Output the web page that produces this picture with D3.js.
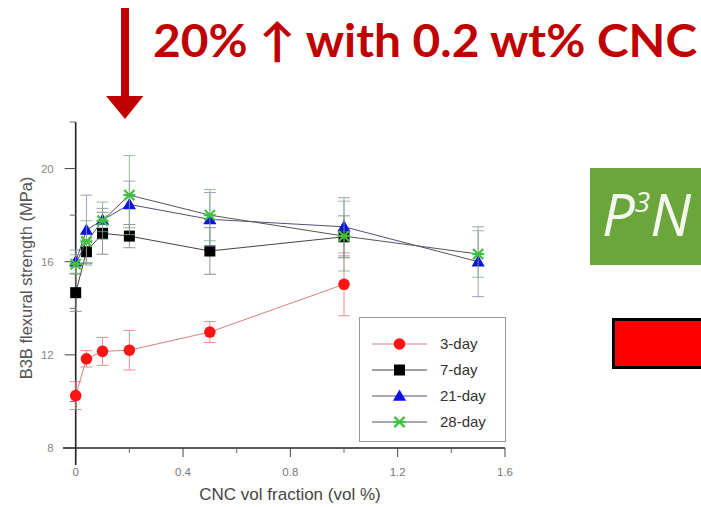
<!DOCTYPE html>
<html>
<head>
<meta charset="utf-8">
<script src="https://cdn.jsdelivr.net/npm/d3@7"></script>
<style>
  html, body { margin: 0; padding: 0; background: #fff; }
  svg { display: block; font-family: 'Liberation Sans', Arial, sans-serif; }
</style>
</head>
<body>
<svg id="chart" width="701" height="507"></svg>
<script>
// ---- data ----
const cncVol = [0, 0.04, 0.1, 0.2, 0.5, 1.0, 1.5];
const day3 = [10.25, 11.83, 12.15, 12.2, 12.98, 15.03];
const day3Err = [0.6, 0.35, 0.6, 0.85, 0.45, 1.35];
const day7 = [14.67, 16.43, 17.22, 17.1, 16.46, 17.07];
const day7Err = [0.8, 0.5, 0.9, 0.5, 1.0, 0.9];
const day21 = [16.0, 17.36, 17.79, 18.46, 17.82, 17.5, 16.0];
const day21Err = [0.5, 1.5, 0.5, 1.0, 1.15, 1.25, 1.5];
const day28 = [15.9, 16.86, 17.76, 18.86, 18.0, 17.1, 16.33];
const day28Err = [0.4, 0.9, 0.8, 1.7, 1.1, 1.5, 1.0];
const xTicks = [0, 0.4, 0.8, 1.2, 1.6];
const xMinor = [0.2, 0.6, 1.0, 1.4];
const yTicks = [8, 12, 16, 20];
const yMinor = [10, 14, 18, 22];
const seriesNames = ['3-day', '7-day', '21-day', '28-day'];
const headline = '20% \u2191 with 0.2 wt% CNC';

const svg = d3.select('#chart');
const x = d3.scaleLinear().domain([0, 1.6]).range([75.7, 505]);
const y = d3.scaleLinear().domain([8, 22]).range([448, 122]);

const series = [
  { name: seriesNames[0], vals: day3, err: day3Err, marker: 'circle', fill: '#ff1414', line: '#d88080', errC: '#f07070' },
  { name: seriesNames[1], vals: day7, err: day7Err, marker: 'square', fill: '#000', line: '#444', errC: '#777' },
  { name: seriesNames[2], vals: day21, err: day21Err, marker: 'triangle', fill: '#1010e0', line: '#505078', errC: '#8888aa' },
  { name: seriesNames[3], vals: day28, err: day28Err, marker: 'cross', fill: '#40c040', line: '#555', errC: '#80b080' }
];

// ---- axes ----
const gx = svg.append('g').attr('transform', 'translate(0,448)');
gx.append('line').attr('x1', 63).attr('x2', x(1.6)).attr('stroke', '#222').attr('stroke-width', 1.6);
gx.selectAll('.maj').data(xTicks).join('line')
  .attr('x1', d => x(d)).attr('x2', d => x(d)).attr('y1', 0).attr('y2', 9)
  .attr('stroke', '#444');
gx.selectAll('.min').data(xMinor).join('line')
  .attr('x1', d => x(d)).attr('x2', d => x(d)).attr('y1', 0).attr('y2', 5)
  .attr('stroke', '#666');
gx.selectAll('text').data(xTicks).join('text')
  .attr('x', d => x(d)).attr('y', 28).attr('text-anchor', 'middle')
  .attr('fill', '#777').style('font-size', '11.5px')
  .text(d => d3.format('')(d));
svg.append('text').attr('x', 290).attr('y', 500).attr('text-anchor', 'middle')
  .attr('fill', '#444').style('font-size', '17px').text('CNC vol fraction (vol %)');

const gy = svg.append('g').attr('transform', 'translate(75.7,0)');
gy.append('line').attr('y1', y(22)).attr('y2', 465).attr('stroke', '#222').attr('stroke-width', 1.6);
gy.selectAll('.maj').data(yTicks).join('line')
  .attr('x1', -11).attr('x2', 0).attr('y1', d => y(d)).attr('y2', d => y(d))
  .attr('stroke', '#444');
gy.selectAll('.min').data(yMinor).join('line')
  .attr('x1', -6).attr('x2', 0).attr('y1', d => y(d)).attr('y2', d => y(d))
  .attr('stroke', '#666');
gy.selectAll('text').data(yTicks).join('text')
  .attr('x', -22).attr('y', d => y(d) + 4).attr('text-anchor', 'end')
  .attr('fill', '#888').style('font-size', '11.5px').text(d => d);
svg.append('text').attr('transform', 'translate(32,278) rotate(-90)').attr('text-anchor', 'middle')
  .attr('fill', '#555').style('font-size', '16.5px').text('B3B flexural strength (MPa)');

// ---- markers ----
function drawMarker(g, type, fill, cx, cy) {
  if (type === 'circle') {
    g.append('circle').attr('cx', cx).attr('cy', cy).attr('r', 5.8).attr('fill', fill);
  } else if (type === 'square') {
    g.append('rect').attr('x', cx - 5.5).attr('y', cy - 5.5).attr('width', 11).attr('height', 11).attr('fill', fill);
  } else if (type === 'triangle') {
    g.append('path').attr('d', d3.symbol(d3.symbolTriangle, 75)()).attr('transform', `translate(${cx},${cy + 1})`).attr('fill', fill);
  } else {
    g.append('path').attr('d', d3.symbol(d3.symbolTimes, 70)()).attr('transform', `translate(${cx},${cy})`)
      .attr('fill', 'none').attr('stroke', fill).attr('stroke-width', 2.2);
    g.append('line').attr('x1', cx - 6).attr('x2', cx + 6).attr('y1', cy).attr('y2', cy)
      .attr('stroke', fill).attr('stroke-width', 2.2);
  }
}

// ---- series ----
series.forEach(s => {
  const pts = s.vals.map((v, i) => ({ x: cncVol[i], v, e: s.err[i] }));
  const g = svg.append('g');
  g.selectAll('.eb').data(pts).join('path')
    .attr('d', d => `M${x(d.x)},${y(d.v - d.e)}V${y(d.v + d.e)}M${x(d.x) - 6},${y(d.v - d.e)}h12M${x(d.x) - 6},${y(d.v + d.e)}h12`)
    .attr('stroke', s.errC).attr('stroke-width', 1).attr('fill', 'none').attr('opacity', 0.8);
  g.append('path').datum(pts)
    .attr('d', d3.line().x(d => x(d.x)).y(d => y(d.v)))
    .attr('fill', 'none').attr('stroke', s.line).attr('stroke-width', 1);
  pts.forEach(d => drawMarker(g, s.marker, s.fill, x(d.x), y(d.v)));
});

// ---- legend ----
const lg = svg.append('g');
lg.append('rect').attr('x', 359.5).attr('y', 317.5).attr('width', 146).attr('height', 124)
  .attr('fill', '#fff').attr('stroke', '#999').attr('stroke-width', 1);
series.forEach((s, i) => {
  const ly = 344 + i * 26;
  lg.append('line').attr('x1', 372).attr('x2', 427).attr('y1', ly).attr('y2', ly)
    .attr('stroke', s.line).attr('stroke-width', 1);
  drawMarker(lg, s.marker, s.fill, 399.5, ly);
  lg.append('text').attr('x', 440).attr('y', ly + 5).attr('fill', '#333')
    .style('font-size', '15px').text(s.name);
});

// ---- annotations ----
svg.append('rect').attr('x', 121).attr('y', 8).attr('width', 8).attr('height', 90).attr('fill', '#c00000');
svg.append('path').attr('d', 'M106,96L143.5,96L125,119Z').attr('fill', '#c00000');
svg.append('text').attr('x', 153).attr('y', 57).attr('fill', '#c00000')
  .attr('textLength', 544).attr('lengthAdjust', 'spacingAndGlyphs')
  .style('font-family', "Lato, 'Open Sans', sans-serif").style('font-weight', 700).style('font-size', '46px')
  .text(headline);

svg.append('rect').attr('x', 590).attr('y', 168).attr('width', 111).attr('height', 97).attr('fill', '#6ba63c');
const p3n = svg.append('text').attr('x', 602).attr('y', 236).attr('fill', '#f4f8ee')
  .style('font-family', "'Open Sans', sans-serif").style('font-style', 'italic').style('font-weight', 400)
  .style('font-size', '58px');
p3n.append('tspan').text('P');
p3n.append('tspan').attr('dy', -24).style('font-size', '28px').text('3');
p3n.append('tspan').attr('dy', 24).text('N');

svg.append('rect').attr('x', 613.5).attr('y', 319.5).attr('width', 92).attr('height', 48)
  .attr('fill', '#ff0000').attr('stroke', '#000').attr('stroke-width', 3);
</script>
</body>
</html>
